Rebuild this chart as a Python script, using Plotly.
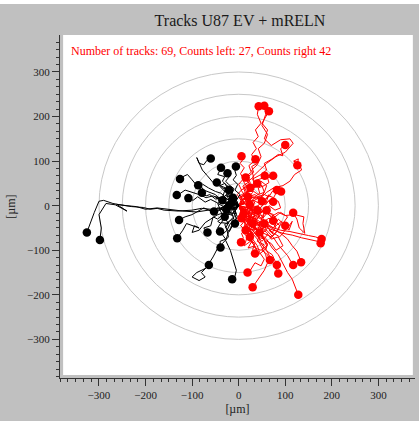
import plotly.graph_objects as go

# ---------------- data ----------------
title_text = "Tracks U87 EV + mRELN"
info_text = "Number of tracks: 69, Counts left: 27, Counts right 42"
axis_label = "[µm]"
circle_radii = [50, 100, 150, 200, 250, 300]

# tracks ending left of origin (black), µm
black_x = [
    [0, -12, -25, -40, -60, -80, -100, -130, -160, -175, -190, -205, -230, -255, -270, -290, -300, -310, -318, -326],
    [0, -10, -28, -45, -65, -90, -120, -150, -175, -200, -220, -240, -262, -240, -265, -285, -300, -295, -298],
    [0, -10, -5, -18, -25, -22, -35, -45, -55, -70, -90, -100, -85, -72, -80, -64],
    [0, -8, -3, -15, -22, -28, -18, -10, -5, -8, -14],
    [0, -12, -8, -20, -30, -25, -35, -28, -40, -39],
    [0, -10, -5, -20, -28, -22, -38, -45, -35, -40],
    [0, -12, -22, -18, -35, -45, -55, -60, -75, -67],
    [0, -15, -28, -45, -60, -72, -85, -100, -95, -85, -112, -120, -132],
    [0, -15, -30, -25, -45, -60, -75, -90, -100, -115, -128],
    [0, -10, -22, -18, -32, -45, -40, -53],
    [0, -15, -28, -40, -55, -70, -85, -100, -115, -125, -133],
    [0, -15, -30, -45, -60, -72, -88, -98, -108],
    [0, -12, -25, -38, -50, -65, -80, -90, -100, -110, -120, -126],
    [0, -15, -25, -38, -50, -62, -75, -80, -87],
    [0, -12, -25, -35, -50, -62, -70, -79],
    [0, -10, -18, -30, -42, -55, -68, -78, -90, -85, -75, -68, -60],
    [0, -8, -18, -12, -25, -35, -30, -45, -40, -38],
    [0, -6, -15, -10, -22, -28, -20, -24],
    [0, -5, 3, -8, -2, -12, -5, -8, -6],
    [0, -10, -18, -28, -22, -35, -42, -47],
    [0, -8, -18, -12, -25, -35, -28, -40, -30, -21],
    [0, -12, -8, -22, -30, -40, -35, -25, -19],
    [0, -10, -18, -12, -25, -35, -45, -38, -30],
    [0, -8, -15, -10, -20, -28, -20, -12, -8],
    [0, -10, -5, -18, -25, -18, -12, -20, -12],
    [0, -12, -8, -20, -28, -38, -32, -22, -26],
    [0, -10, -22, -15, -30, -42, -50, -38, -35],
]
black_y = [
    [0, 5, -3, -5, -8, -6, -10, -12, -10, -6, -8, -4, -2, 2, 5, 12, 10, -15, -40, -60],
    [0, -8, -5, -12, -10, -14, -12, -8, -5, -8, -2, 0, 3, -12, 2, 5, -20, -50, -77],
    [0, -15, -30, -40, -55, -70, -85, -95, -115, -140, -150, -160, -168, -160, -150, -133],
    [0, -12, -25, -45, -60, -78, -100, -125, -145, -158, -165],
    [0, -10, -22, -35, -42, -55, -65, -75, -80, -94],
    [0, -5, -18, -15, -30, -40, -38, -50, -52, -58],
    [0, 5, -5, -18, -20, -30, -25, -45, -50, -60],
    [0, -8, -15, -20, -30, -38, -55, -60, -45, -50, -40, -55, -73],
    [0, 5, 0, -10, -5, -12, -5, -15, -20, -25, -32],
    [0, 8, 2, -8, -2, 5, -8, -13],
    [0, 8, 5, 15, 22, 18, 25, 30, 35, 28, 24],
    [0, 2, 10, 6, 14, 8, 20, 12, 17],
    [0, 10, 15, 28, 32, 40, 50, 45, 58, 70, 65, 60],
    [0, 5, 15, 12, 25, 30, 35, 42, 46],
    [0, 10, 5, 18, 15, 25, 22, 29],
    [0, 12, 25, 32, 45, 52, 68, 80, 108, 95, 92, 102, 106],
    [0, 12, 22, 35, 45, 55, 65, 70, 80, 85],
    [0, 15, 25, 38, 48, 55, 65, 73],
    [0, 12, 25, 35, 48, 58, 68, 78, 88],
    [0, 8, 20, 22, 35, 40, 48, 52],
    [0, 10, 5, 20, 25, 18, 40, 45, 50, 35],
    [0, -8, 5, 10, 0, -10, -20, -10, 2],
    [0, -5, -15, -22, -18, -28, -35, -40, -25],
    [0, -12, -20, -28, -35, -50, -58, -42, -40],
    [0, 5, 12, 8, 22, 30, 25, 15, 18],
    [0, 5, -8, -5, 2, -5, -15, -12, -8],
    [0, -5, 2, 10, 5, 12, 20, 18, 12],
]

# tracks ending right of origin (red), µm
red_x = [
    [0, 8, 3, 14, 9, 20, 16, 27, 22, 33, 28, 38, 31, 42, 36, 48, 40, 43],
    [0, 12, 6, 18, 26, 20, 32, 28, 40, 48, 42, 55, 62, 50, 58, 55],
    [0, 15, 10, 25, 35, 30, 45, 60, 80, 100, 117, 110, 90, 70, 55, 62, 50, 58, 65],
    [0, 10, 22, 18, 35, 30, 48, 60, 55, 72, 85, 95, 90, 100],
    [0, 18, 30, 45, 60, 75, 95, 110, 120, 135, 130, 118, 128, 126],
    [0, 5, -3, 6, 0, 10, 4, 12, 3, 8, 6],
    [0, 10, 5, 18, 12, 25, 20, 32, 28, 40, 36],
    [0, 7, 2, 12, 5, 18, 10, 15],
    [0, 12, 8, 22, 30, 25, 38, 45, 40, 52, 56],
    [0, 15, 25, 20, 35, 45, 42, 55, 65, 62, 74],
    [0, 12, 22, 18, 32, 45, 40, 55, 65, 72, 82],
    [0, 15, 25, 35, 30, 45, 55, 65, 75, 80, 91],
    [0, 10, 22, 30, 25, 40, 50, 58, 65, 74],
    [0, 15, 28, 40, 55, 70, 85, 100, 120, 140, 138, 142, 130, 125, 117],
    [0, 10, 25, 20, 35, 48, 55, 65, 74],
    [0, 12, 25, 20, 38, 52, 70, 90, 110, 130, 150, 165, 178],
    [0, 8, 20, 35, 45, 58, 75, 95, 115, 135, 155, 170, 176],
    [0, 8, 2, 12, 4, 15, 6, 10, 5],
    [0, 12, 5, 20, 15, 28, 22, 35, 30, 35],
    [0, 15, 25, 20, 35, 45, 40, 55, 50, 62, 67],
    [0, 18, 30, 25, 42, 50, 62, 58, 72, 78, 82],
    [0, 20, 35, 45, 60, 75, 85, 95, 105, 112, 117],
    [0, 25, 40, 55, 70, 90, 105, 115, 125, 130, 134],
    [0, 10, 22, 30, 42, 50, 60, 68, 75, 80, 85],
    [0, 8, 15, 25, 30, 40, 45, 55, 48, 35, 25, 19],
    [0, 10, 20, 28, 40, 50, 58, 62, 55, 45, 38, 30],
    [0, 15, 30, 45, 60, 72, 85, 95, 105, 115, 122, 128],
    [0, 10, 25, 35, 28, 40, 52, 60, 48, 55, 40, 30, 38, 25, 30, 18, 25, 20],
    [0, 15, 8, 22, 35, 50, 45, 60, 72, 80, 68, 75, 62, 52, 58, 45, 40],
    [0, 12, 25, 40, 55, 48, 62, 75, 88, 80, 70, 62, 50, 42, 38, 30],
    [0, 15, 30, 22, 38, 28, 18, 25, 12, 20, 8, 15, 5, 10],
    [0, 18, 12, 30, 45, 38, 55, 65, 78, 90, 85, 70, 58, 65, 58, 50],
    [0, 20, 35, 30, 45, 38, 52, 60, 48, 35, 25, 30, 18, 10, 15],
    [0, 10, 25, 15, 30, 45, 60, 70, 85, 95, 80, 70, 58, 45],
    [0, 15, 28, 20, 35, 45, 55, 50, 38, 30, 35, 25],
    [0, 20, 35, 50, 42, 60, 75, 85, 95, 105, 90, 78, 70, 60],
    [0, 12, 25, 40, 32, 45, 55, 48, 30, 20, 24],
    [0, 18, 30, 42, 35, 20, 28, 40, 30, 15, 12, 6],
    [0, 15, 30, 25, 40, 50, 62, 55, 42, 35, 20, 28, 24],
    [0, 25, 40, 55, 70, 80, 92, 100, 88, 75, 65, 75, 55],
    [0, 10, 22, 15, 28, 42, 55, 60, 48, 35, 48, 40],
    [0, 20, 35, 55, 50, 70, 85, 90, 105, 115, 108, 100],
]
red_y = [
    [0, 10, 22, 30, 44, 52, 66, 75, 90, 100, 115, 128, 142, 155, 170, 185, 205, 223],
    [0, 6, 18, 26, 40, 55, 64, 80, 92, 110, 128, 140, 160, 180, 205, 224],
    [0, 10, 25, 35, 50, 65, 80, 95, 110, 120, 140, 150, 148, 135, 150, 170, 185, 200, 212],
    [0, 15, 20, 35, 45, 60, 70, 80, 95, 105, 115, 112, 128, 136],
    [0, 8, 20, 15, 30, 40, 45, 55, 70, 80, 95, 100, 105, 91],
    [0, 12, 25, 35, 48, 60, 72, 85, 95, 102, 111],
    [0, 8, 20, 28, 42, 50, 65, 75, 88, 95, 104],
    [0, 8, 18, 25, 35, 42, 55, 63],
    [0, 5, 15, 20, 30, 40, 42, 50, 58, 62, 67],
    [0, -5, 5, 15, 20, 28, 40, 45, 52, 62, 67],
    [0, -8, 0, 10, 12, 5, 20, 25, 20, 32, 35],
    [0, 5, -5, 5, 15, 20, 10, 22, 18, 28, 32],
    [0, -12, -5, -15, 0, -2, 10, 2, 12, 9],
    [0, -10, -5, -18, -12, -25, -15, -22, -20, -25, -40, -62, -50, -30, -16],
    [0, -15, -10, -25, -30, -20, -35, -28, -34],
    [0, -10, -18, -30, -35, -45, -48, -55, -58, -63, -67, -70, -75],
    [0, -18, -25, -30, -45, -50, -55, -62, -66, -72, -76, -80, -84],
    [0, -12, -22, -35, -45, -55, -62, -72, -82],
    [0, -15, -28, -38, -52, -60, -75, -85, -98, -107],
    [0, -12, -25, -40, -50, -65, -80, -88, -100, -110, -122],
    [0, -15, -30, -45, -55, -72, -85, -100, -110, -122, -133],
    [0, -20, -30, -48, -55, -72, -88, -100, -112, -125, -133],
    [0, -15, -25, -35, -50, -62, -75, -90, -102, -115, -127],
    [0, -20, -35, -55, -70, -88, -100, -118, -130, -142, -152],
    [0, -20, -40, -55, -75, -90, -105, -120, -135, -128, -145, -150],
    [0, -25, -40, -60, -75, -95, -110, -128, -145, -160, -172, -183],
    [0, -25, -40, -60, -75, -95, -110, -130, -150, -165, -182, -200],
    [0, -10, -5, -20, -35, -45, -38, -55, -62, -75, -70, -55, -40, -30, -10, -5, 5, 20],
    [0, -12, -25, -35, -28, -40, -55, -45, -60, -48, -35, -20, -15, -28, -5, -20, -10],
    [0, 5, -8, 0, -15, -30, -40, -30, -45, -60, -72, -65, -80, -70, -55, -40],
    [0, -20, -15, -35, -50, -62, -45, -80, -90, -65, -55, -40, -30, -20],
    [0, -15, -30, -38, -25, -10, -15, 0, -10, -5, 10, 15, 5, 25, 15, 10],
    [0, -5, -18, -35, -45, -60, -70, -90, -100, -95, -70, -85, -70, -60, -55],
    [0, -25, -30, -45, -55, -48, -60, -75, -70, -90, -100, -85, -78, -60],
    [0, 10, 5, 20, 25, 15, 30, 45, 50, 35, 55, 40],
    [0, -25, -15, -30, -45, -40, -50, -30, -40, -25, -15, -25, -20, -10],
    [0, -30, -40, -35, -20, -5, 5, 20, 10, 0, 2],
    [0, -10, -25, -20, -5, -15, -40, -55, -65, -50, -35, -28],
    [0, -12, -30, -45, -55, -70, -88, -100, -110, -90, -95, -80, -70],
    [0, -5, -20, -10, -25, -45, -35, -55, -70, -62, -55, -65, -40],
    [0, 15, 10, 30, 35, 25, 30, 45, 55, 45, 52, 50],
    [0, -30, -40, -35, -60, -70, -55, -40, -50, -35, -55, -45],
]

# ---------------- figure ----------------
FONT = "Liberation Serif"
W, H = 419, 421
ML, MR, MT, MB = 60, 4, 35, 43


def joined(xs_list, ys_list):
    ox, oy = [], []
    for xs, ys in zip(xs_list, ys_list):
        n = min(len(xs), len(ys))
        ox.extend(xs[:n] + [None])
        oy.extend(ys[:n] + [None])
    return ox, oy


fig = go.Figure()
rx, ry = joined(red_x, red_y)
bx, by = joined(black_x, black_y)
fig.add_trace(go.Scatter(x=rx, y=ry, mode="lines",
                         line=dict(color="#ff0000", width=1), hoverinfo="skip",
                         showlegend=False))
fig.add_trace(go.Scatter(x=bx, y=by, mode="lines",
                         line=dict(color="#000000", width=1), hoverinfo="skip",
                         showlegend=False))
fig.add_trace(go.Scatter(x=[t[-1] for t in red_x], y=[t[-1] for t in red_y],
                         mode="markers", marker=dict(color="#ff0000", size=8.5),
                         showlegend=False))
fig.add_trace(go.Scatter(x=[t[-1] for t in black_x], y=[t[-1] for t in black_y],
                         mode="markers", marker=dict(color="#000000", size=8.5),
                         showlegend=False))

shapes = [dict(type="rect", xref="x", yref="y", x0=-377, x1=374, y0=-380, y1=383,
               fillcolor="white", line=dict(width=0), layer="below")]
for r in circle_radii:
    shapes.append(dict(type="circle", xref="x", yref="y", x0=-r, x1=r, y0=-r, y1=r,
                       line=dict(color="#c8c8c8", width=1), layer="below"))
shapes.append(dict(type="rect", xref="paper", yref="paper", x0=-0.5, x1=1.5,
                   y0=1 + (MT - 4) / (H - MT - MB), y1=1.2,
                   fillcolor="white", line=dict(width=0), layer="above"))

axis_common = dict(
    dtick=100, tick0=0, ticks="outside", ticklen=7, tickwidth=1, tickcolor="#333333",
    showline=True, linecolor="#333333", linewidth=1, showgrid=False, zeroline=False,
    tickfont=dict(family=FONT, size=11, color="#222222"),
    minor=dict(dtick=100 / 6, tick0=0, ticks="outside", ticklen=3, tickcolor="#333333",
               showgrid=False),
    fixedrange=True,
)

fig.update_layout(
    width=W, height=H,
    margin=dict(l=ML, r=MR, t=MT, b=MB, pad=0),
    paper_bgcolor="#c0c0c0", plot_bgcolor="#c0c0c0",
    font=dict(family=FONT, color="#222222"),
    title=dict(text=title_text, xref="container", x=240 / W, y=1 - 20 / H,
               xanchor="center", yanchor="middle",
               font=dict(family=FONT, size=16, color="#1a1a1a")),
    xaxis=dict(range=[-383.7, 378.6], **axis_common,
               title=dict(text=axis_label, standoff=4,
                          font=dict(family=FONT, size=12, color="#222222"))),
    yaxis=dict(range=[-386.6, 383], **axis_common,
               title=dict(text=axis_label, standoff=8,
                          font=dict(family=FONT, size=12, color="#222222"))),
    shapes=shapes,
    annotations=[dict(text=info_text, xref="paper", yref="paper",
                      x=(69 - ML) / (W - ML - MR), y=1 - (51 - MT) / (H - MT - MB),
                      xanchor="left", yanchor="middle", showarrow=False,
                      font=dict(family=FONT, size=12, color="#ff0000"))],
)

fig.write_html("out.html")
